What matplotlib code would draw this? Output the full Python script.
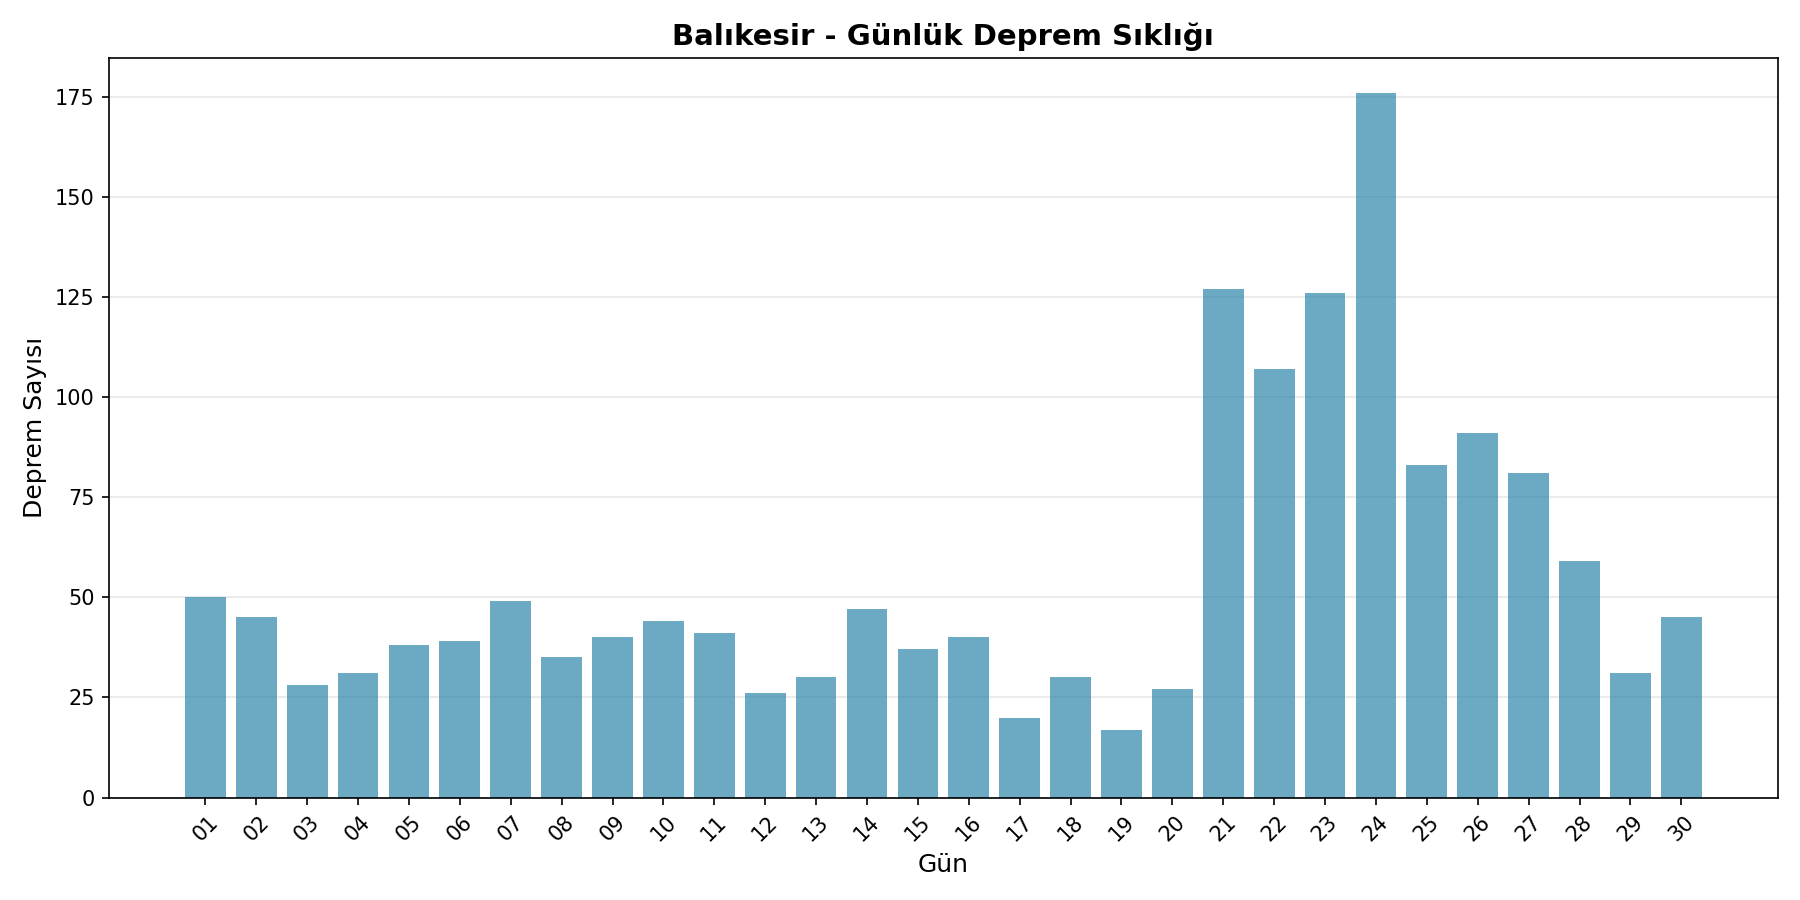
import matplotlib
matplotlib.use("Agg")
import matplotlib.pyplot as plt

days = ["01","02","03","04","05","06","07","08","09","10","11","12","13","14","15",
        "16","17","18","19","20","21","22","23","24","25","26","27","28","29","30"]
counts = [50, 45, 28, 31, 38, 39, 49, 35, 40, 44, 41, 26, 30, 47, 37,
          40, 20, 30, 17, 27, 127, 107, 126, 176, 83, 91, 81, 59, 31, 45]

fig, ax = plt.subplots(figsize=(12, 6), dpi=150)
ax.bar(days, counts, color="#2E86AB", alpha=0.7)
ax.set_title("Balıkesir - Günlük Deprem Sıklığı", fontsize=14, fontweight="bold")
ax.set_xlabel("Gün", fontsize=12)
ax.set_ylabel("Deprem Sayısı", fontsize=12)
ax.grid(axis="y", alpha=0.3)
ax.set_axisbelow(True)
plt.xticks(rotation=45)
plt.tight_layout()
plt.savefig("out.png", dpi=150)
